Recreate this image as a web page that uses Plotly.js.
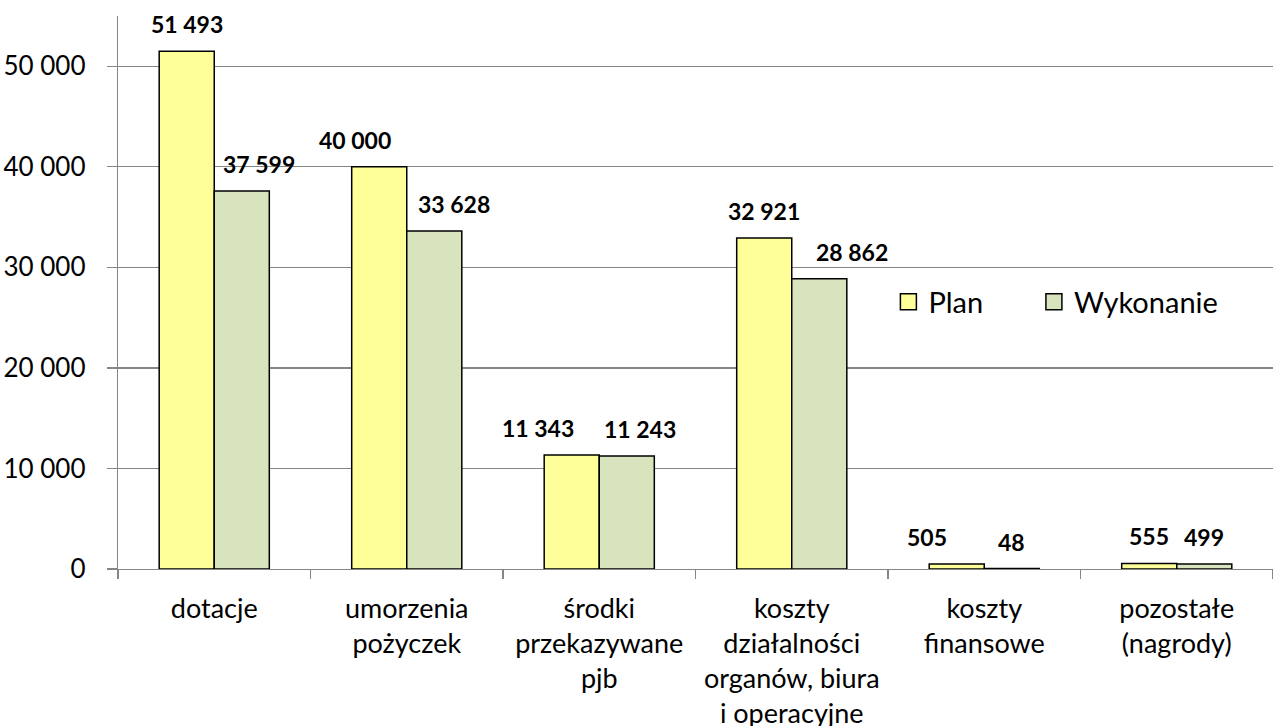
<!DOCTYPE html>
<html>
<head>
<meta charset="utf-8">
<script src="https://cdn.plot.ly/plotly-3.0.1.min.js"></script>
<style>
  html, body { margin: 0; padding: 0; background: #ffffff; }
  #chart { width: 1273px; height: 726px; }
</style>
</head>
<body>
<div id="chart"></div>
<script>
// ---- data ----
const categories = [
  "dotacje",
  "umorzenia<br>pożyczek",
  "środki<br>przekazywane<br>pjb",
  "koszty<br>działalności<br>organów, biura<br>i operacyjne",
  "koszty<br>finansowe",
  "pozostałe<br>(nagrody)"
];
const planValues = [51493, 40000, 11343, 32921, 505, 555];
const wykonanieValues = [37599, 33628, 11243, 28862, 48, 499];
const seriesNames = ["Plan", "Wykonanie"];

// ---- styles ----
const planColor = "#FFFF99";
const wykColor = "#D7E4BD";
const gridColor = "#868686";
const fontFamily = "Lato, 'Open Sans', sans-serif";
const margin = { l: 118, r: 0, t: 16, b: 157 };
const bargap = 0.428;
const W = 1273, H = 726;
// manual nudges of the value labels (px), as placed in the reference
const planLabelNudge = [0, -24, -34, 0, -30, 0];
const wykLabelNudge = [17, 20, 13, 33, 0, 0];
const labelLift = 27;

function fmt(v) {
  return String(v).replace(/\B(?=(\d{3})+(?!\d))/g, " ");
}

const plotW = W - margin.l - margin.r;
const catW = plotW / categories.length;
const barW = catW * (1 - bargap) / 2;

const barLine = { color: "#000000", width: 1.5 };

const traces = [
  {
    type: "bar", name: seriesNames[0], x: categories, y: planValues,
    marker: { color: planColor, line: barLine }, showlegend: false, hoverinfo: "y"
  },
  {
    type: "bar", name: seriesNames[1], x: categories, y: wykonanieValues,
    marker: { color: wykColor, line: barLine }, showlegend: false, hoverinfo: "y"
  },
  {
    type: "scatter", mode: "markers", name: seriesNames[0], x: [null], y: [null],
    marker: { symbol: "square", size: 16, color: planColor, line: { color: "#000", width: 1.5 } },
    showlegend: true, legend: "legend"
  },
  {
    type: "scatter", mode: "markers", name: seriesNames[1], x: [null], y: [null],
    marker: { symbol: "square", size: 16, color: wykColor, line: { color: "#000", width: 1.5 } },
    showlegend: true, legend: "legend2"
  }
];

const annotations = [];
const labelFont = { family: fontFamily, size: 23, color: "#000", weight: "bold" };
categories.forEach((c, i) => {
  annotations.push({
    x: c, y: planValues[i], xref: "x", yref: "y", text: fmt(planValues[i]),
    showarrow: false, xshift: -barW / 2 + planLabelNudge[i], yshift: labelLift,
    font: labelFont
  });
  annotations.push({
    x: c, y: wykonanieValues[i], xref: "x", yref: "y", text: fmt(wykonanieValues[i]),
    showarrow: false, xshift: barW / 2 + wykLabelNudge[i], yshift: labelLift,
    font: labelFont
  });
});

const legendBase = {
  orientation: "h",
  xanchor: "left",
  y: 0.483, yanchor: "middle",
  font: { family: fontFamily, size: 29, color: "#000" },
  bgcolor: "rgba(0,0,0,0)"
};

const layout = {
  width: W, height: H,
  margin: margin,
  paper_bgcolor: "#ffffff",
  plot_bgcolor: "#ffffff",
  separators: ", ",
  font: { family: fontFamily, size: 26, color: "#000000" },
  barmode: "group",
  bargap: bargap,
  bargroupgap: 0,
  showlegend: true,
  legend: Object.assign({}, legendBase, { x: 0.667 }),
  legend2: Object.assign({}, legendBase, { x: 0.793 }),
  xaxis: {
    type: "category",
    showline: true, linecolor: gridColor, linewidth: 1.3,
    ticks: "outside", tickson: "boundaries", ticklen: 9, tickcolor: gridColor, tickwidth: 1.3,
    ticklabelstandoff: 15,
    showgrid: false, zeroline: false,
    tickfont: { family: fontFamily, size: 27, color: "#000" },
    automargin: false
  },
  yaxis: {
    range: [0, 55000], dtick: 10000, tick0: 0,
    tickformat: ",d",
    showgrid: true, gridcolor: gridColor, gridwidth: 1.3,
    showline: true, linecolor: gridColor, linewidth: 1.3,
    ticks: "outside", ticklen: 10, tickcolor: gridColor, tickwidth: 1.3,
    ticklabelstandoff: 16,
    zeroline: false,
    tickfont: { family: fontFamily, size: 26, color: "#000" },
    automargin: false
  },
  annotations: annotations
};

Plotly.newPlot("chart", traces, layout, { staticPlot: true, displayModeBar: false });
</script>
</body>
</html>
